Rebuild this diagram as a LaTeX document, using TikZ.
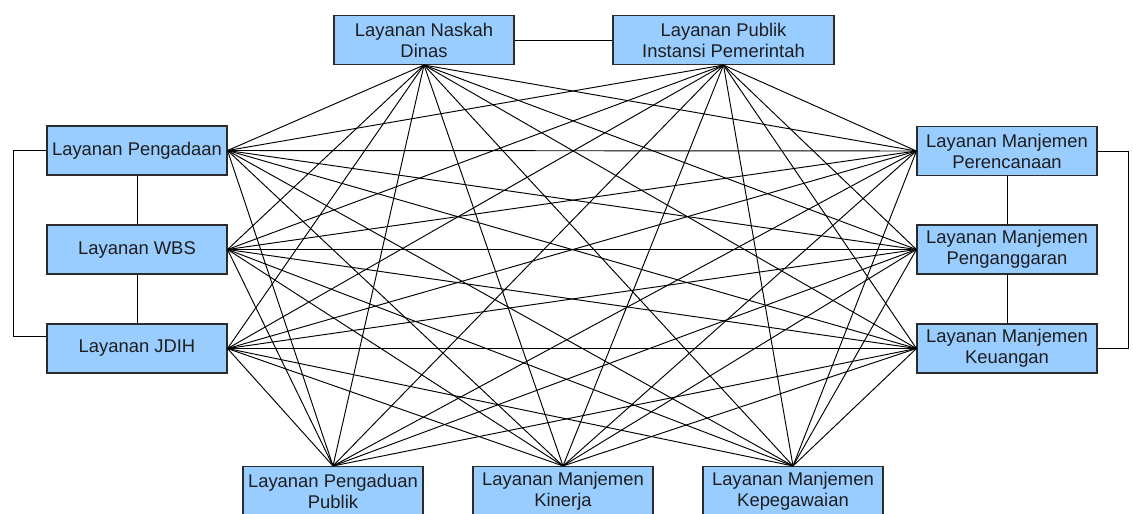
\documentclass[tikz,border=0pt]{standalone}
\usepackage{fontspec}
\setmainfont{Liberation Sans}
\usetikzlibrary{calc}
\definecolor{boxfill}{HTML}{99CCFF}
\definecolor{boxline}{HTML}{2B2B2B}
\definecolor{txt}{HTML}{1E1E1E}
\begin{document}
\begin{tikzpicture}[x=1pt,y=-1pt,
  svc/.style={draw=boxline, line width=1.1pt, fill=boxfill, minimum width=180pt,
    minimum height=49pt, inner sep=0pt, align=center,
    font=\fontsize{18.4}{21}\selectfont, text=txt},
  link/.style={draw=black, line width=0.95pt}]
\useasboundingbox (0,0) rectangle (1133,514);
\clip (0,0) rectangle (1133,514);
\fill[white] (0,0) rectangle (1133,514);
% top
\node[svc] (T1) at (424,40) {Layanan Naskah\\Dinas};
\node[svc, minimum width=221pt] (T2) at (723.5,40) {Layanan Publik\\Instansi Pemerintah};
% left
\node[svc] (L1) at (137,150.5) {Layanan Pengadaan};
\node[svc] (L2) at (137,249.5) {Layanan WBS};
\node[svc] (L3) at (137,348.5) {Layanan JDIH};
% right
\node[svc] (R1) at (1007,151) {Layanan Manjemen\\Perencanaan};
\node[svc] (R2) at (1007,249.5) {Layanan Manjemen\\Penganggaran};
\node[svc] (R3) at (1007,348.5) {Layanan Manjemen\\Keuangan};
% bottom
\node[svc] (B1) at (333,491) {Layanan Pengaduan\\Publik};
\node[svc] (B2) at (563,491) {Layanan Manjemen\\Kinerja};
\node[svc] (B3) at (793,491) {Layanan Manjemen\\Kepegawaian};
% group links
\draw[link] (T1.east) -- (T2.west);
\draw[link] (L1.south) -- (L2.north);
\draw[link] (L2.south) -- (L3.north);
\coordinate (L3b) at ($(L3.west)+(0,-12)$);
\draw[link] (L1.west) -- ++(-33,0) |- (L3b);
\draw[link] (R1.south) -- (R2.north);
\draw[link] (R2.south) -- (R3.north);
\draw[link] (R1.east) -- ++(31,0) |- (R3.east);
% mesh
\foreach \a in {T1.south,T2.south}
  \foreach \b in {L1.east,L2.east,L3.east,R1.west,R2.west,R3.west,B1.north,B2.north,B3.north}
    {\draw[link] (\a) -- (\b);}
\foreach \a in {L1.east,L2.east,L3.east}
  \foreach \b in {R1.west,R2.west,R3.west,B1.north,B2.north,B3.north}
    {\draw[link] (\a) -- (\b);}
\foreach \a in {R1.west,R2.west,R3.west}
  \foreach \b in {B1.north,B2.north,B3.north}
    {\draw[link] (\a) -- (\b);}
\end{tikzpicture}
\end{document}
